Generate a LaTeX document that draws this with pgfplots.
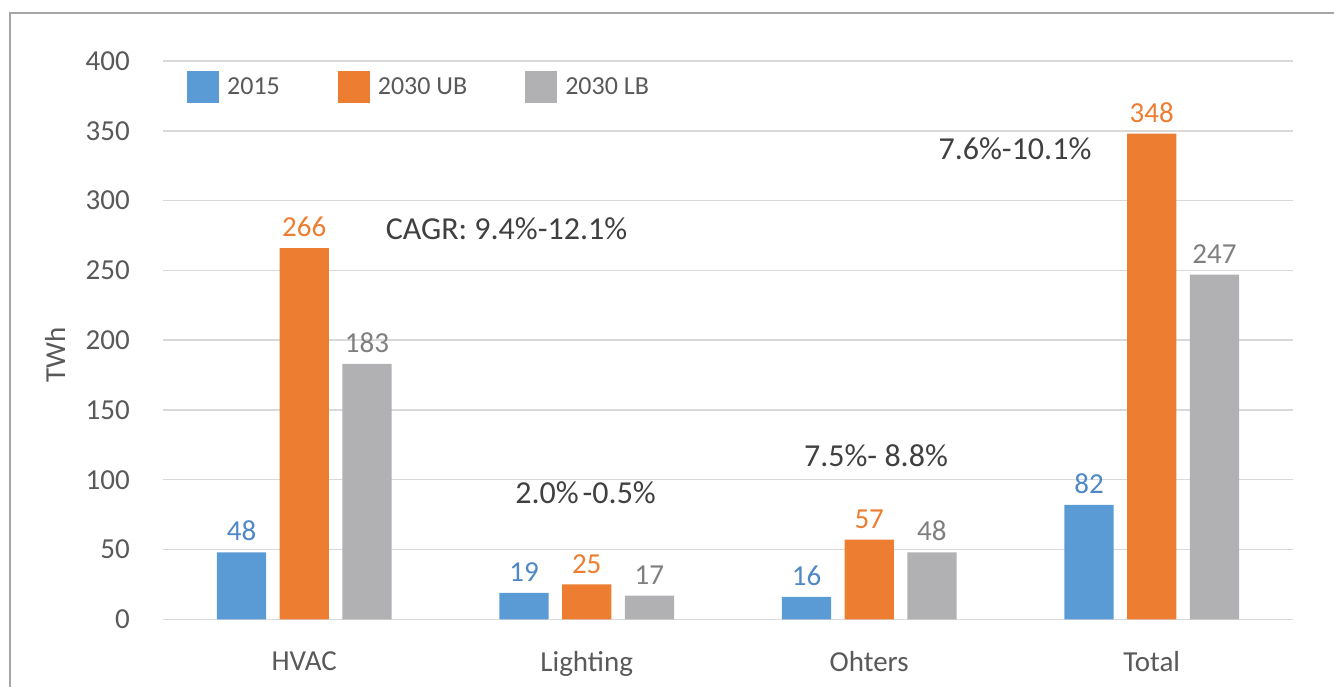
\documentclass[border=0pt]{standalone}
\usepackage{pgfplots}
\pgfplotsset{compat=1.18}
\usepackage{fontspec}
\setmainfont{Carlito}
\definecolor{cblue}{HTML}{5B9BD5}
\definecolor{corange}{HTML}{ED7D31}
\definecolor{cgray}{HTML}{B1B1B3}
\definecolor{lblue}{HTML}{4F88C6}
\definecolor{lgray}{HTML}{7F7F7F}
\definecolor{txt}{HTML}{595959}
\definecolor{atxt}{HTML}{404040}
\definecolor{gridc}{HTML}{D9D9D9}
\definecolor{framec}{HTML}{A6A6A6}
\begin{document}
\begin{tikzpicture}[x=1pt,y=1pt]
\useasboundingbox (0,0) rectangle (1334,687);
\draw[framec, line width=2.5pt] (10,-5) -- (10,674) -- (1340,674);
\begin{axis}[
  at={(163pt,67.7pt)}, anchor=south west,
  scale only axis, width=1130pt, height=558.3pt,
  xmin=-0.5, xmax=3.5, ymin=0, ymax=400,
  ybar=13.4pt, bar width=49.3pt,
  xtick={0,1,2,3}, xticklabels={HVAC,Lighting,Ohters,Total},
  ytick={0,50,...,400},
  axis line style={draw=none}, major tick length=0pt,
  ymajorgrids, grid style={gridc, line width=1.5pt},
  /pgf/number format/assume math mode=true,
  tick label style={font=\fontsize{29}{34}\selectfont, text=txt},
  yticklabel style={anchor=east, inner sep=0pt, xshift=-33pt},
  xticklabel style={anchor=north, inner sep=0pt, yshift=-32pt},
  ylabel={TWh},
  ylabel style={at={(axis description cs:-0.0956,0.473)}, anchor=center, font=\fontsize{29}{34}\selectfont, text=txt},
  legend style={at={(axis description cs:0.0212,0.982)}, anchor=north west, draw=none, fill=none, inner sep=0pt,
    font=\fontsize{26}{30}\selectfont, text=txt, nodes={inner sep=0pt},
    /tikz/every even column/.append style={column sep=58pt},
    /tikz/every odd column/.append style={column sep=8pt}},
  legend columns=3, legend cell align=left,
  nodes near coords,
  every node near coord/.append style={font=\fontsize{29}{34}\selectfont, anchor=south, inner sep=0pt, yshift=11pt},
  clip=false,
]
\addplot[fill=cblue, draw=none,
  every node near coord/.append style={text=lblue},
  legend image code/.code={\fill[cblue] (0pt,-16pt) rectangle (32pt,16pt);}]
  coordinates {(0,48) (1,19) (2,16) (3,82)};
\addlegendentry{2015}
\addplot[fill=corange, draw=none,
  every node near coord/.append style={text=corange},
  legend image code/.code={\fill[corange] (0pt,-16pt) rectangle (32pt,16pt);}]
  coordinates {(0,266) (1,25) (2,57) (3,348)};
\addlegendentry{2030 UB}
\addplot[fill=cgray, draw=none,
  every node near coord/.append style={text=lgray},
  legend image code/.code={\fill[cgray] (0pt,-16pt) rectangle (32pt,16pt);}]
  coordinates {(0,183) (1,17) (2,48) (3,247)};
\addlegendentry{2030 LB}
\node[font=\fontsize{32}{38}\selectfont, text=atxt] at (axis cs:0.716,279.7) {CAGR: 9.4\%-12.1\%};
\node[font=\fontsize{32}{38}\selectfont, text=atxt] at (axis cs:2.516,336.8) {7.6\%-10.1\%};
\node[font=\fontsize{32}{38}\selectfont, text=atxt] at (axis cs:2.024,117) {7.5\%- 8.8\%};
\node[font=\fontsize{32}{38}\selectfont, text=atxt] at (axis cs:0.996,90.7) {2.0\%\hspace{4pt}-0.5\%};
\end{axis}
\end{tikzpicture}
\end{document}
